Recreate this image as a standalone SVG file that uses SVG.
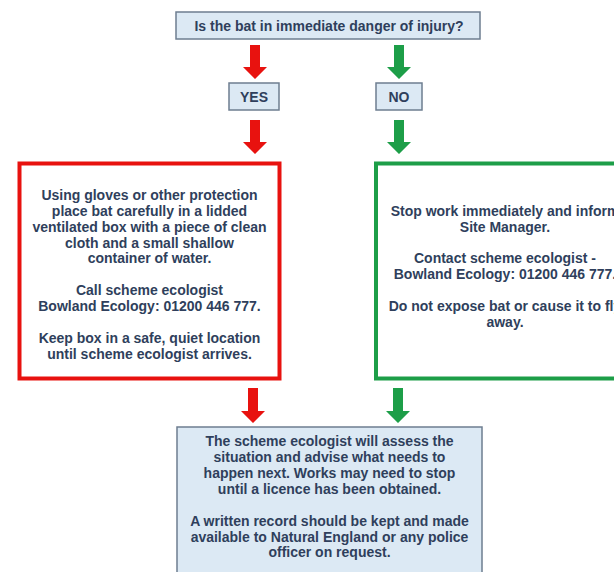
<svg xmlns="http://www.w3.org/2000/svg" width="614" height="572" viewBox="0 0 614 572">
<style>
text{font-family:"Liberation Sans",Arial,sans-serif;font-weight:bold;font-size:14px;fill:#2f3f5c;text-anchor:middle}
.q{fill:#dce9f4;stroke:#6e7e90;stroke-width:1.5}
.red{fill:#e8120f}
.green{fill:#1d9e48}
</style>
<rect width="614" height="572" fill="#ffffff"/>
<g id="connectors">
<path class="red" d="M250,45h10v22h7l-12,12l-12,-12h7z"/>
<path class="green" d="M394,45h10v22h7l-12,12l-12,-12h7z"/>
<path class="red" d="M250,120h10v22h7l-12,12l-12,-12h7z"/>
<path class="green" d="M394,120h10v22h7l-12,12l-12,-12h7z"/>
<path class="red" d="M248,388h10v23h7l-12,12l-12,-12h7z"/>
<path class="green" d="M393,388h10v23h7l-12,12l-12,-12h7z"/>
</g>
<g id="question">
<rect class="q" x="176" y="12" width="304" height="27"/>
<text x="329" y="30.5">Is the bat in immediate danger of injury?</text>
</g>
<g id="yes">
<rect class="q" x="229" y="83" width="50" height="27"/>
<text x="254" y="101.5">YES</text>
</g>
<g id="no">
<rect class="q" x="376" y="83" width="46" height="27"/>
<text x="399" y="101.5">NO</text>
</g>
<g id="yes-action">
<rect x="19.5" y="163.5" width="260" height="215" fill="#ffffff" stroke="#e8120f" stroke-width="4"/>
<text x="149.5" y="200">Using gloves or other protection</text>
<text x="149.5" y="216">place bat carefully in a lidded</text>
<text x="149.5" y="231.5">ventilated box with a piece of clean</text>
<text x="149.5" y="247.5">cloth and a small shallow</text>
<text x="149.5" y="263">container of water.</text>
<text x="149.5" y="295">Call scheme ecologist</text>
<text x="149.5" y="311">Bowland Ecology: 01200 446 777.</text>
<text x="149.5" y="343">Keep box in a safe, quiet location</text>
<text x="149.5" y="359">until scheme ecologist arrives.</text>
</g>
<g id="no-action">
<rect x="376" y="163.5" width="260" height="215" fill="#ffffff" stroke="#1d9e48" stroke-width="4"/>
<text x="505" y="216">Stop work immediately and inform</text>
<text x="505" y="232">Site Manager.</text>
<text x="505" y="263">Contact scheme ecologist -</text>
<text x="505" y="279">Bowland Ecology: 01200 446 777.</text>
<text x="505" y="311">Do not expose bat or cause it to fly</text>
<text x="505" y="327">away.</text>
</g>
<g id="outcome">
<rect class="q" x="177" y="427" width="305" height="150"/>
<text x="329.5" y="446">The scheme ecologist will assess the</text>
<text x="329.5" y="462">situation and advise what needs to</text>
<text x="329.5" y="478">happen next. Works may need to stop</text>
<text x="329.5" y="493.5">until a licence has been obtained.</text>
<text x="329.5" y="526">A written record should be kept and made</text>
<text x="329.5" y="542">available to Natural England or any police</text>
<text x="329.5" y="557">officer on request.</text>
</g>
</svg>
